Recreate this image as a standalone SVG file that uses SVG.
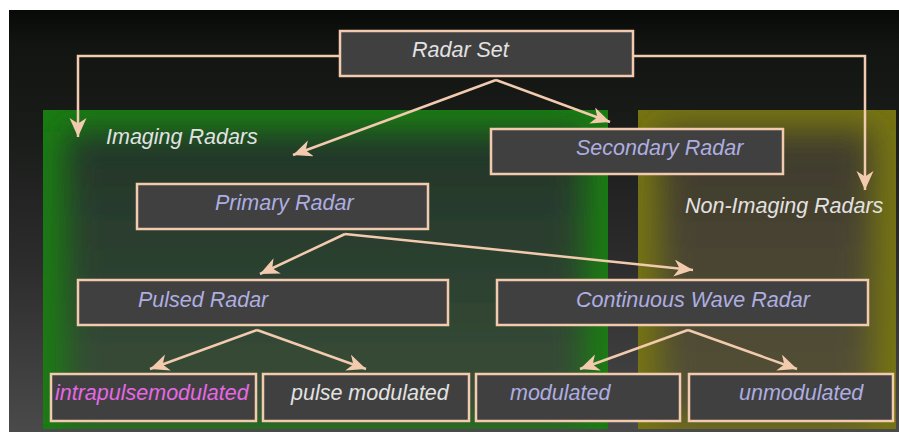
<svg xmlns="http://www.w3.org/2000/svg" width="899" height="432" viewBox="0 0 899 432">
  <defs>
    <linearGradient id="bg" x1="0" y1="0" x2="0" y2="1">
      <stop offset="0" stop-color="#080a08"/>
      <stop offset="0.08" stop-color="#121412"/>
      <stop offset="0.3" stop-color="#1a1c1a"/>
      <stop offset="0.6" stop-color="#2c2c2c"/>
      <stop offset="1" stop-color="#4a4a4a"/>
    </linearGradient>
    <linearGradient id="ginner" x1="0" y1="0" x2="0" y2="1">
      <stop offset="0" stop-color="#22352a"/>
      <stop offset="0.5" stop-color="#2d4130"/>
      <stop offset="1" stop-color="#3c503a"/>
    </linearGradient>
    <linearGradient id="yinner" x1="0" y1="0" x2="0" y2="1">
      <stop offset="0" stop-color="#3e3a2c"/>
      <stop offset="0.5" stop-color="#4a4632"/>
      <stop offset="1" stop-color="#565338"/>
    </linearGradient>
    <filter id="soft" x="-20%" y="-20%" width="140%" height="140%">
      <feGaussianBlur stdDeviation="16"/>
    </filter>
    <clipPath id="gclip"><rect x="43" y="110" width="565" height="319"/></clipPath>
    <clipPath id="yclip"><rect x="638" y="110" width="258" height="319"/></clipPath>
    <marker id="arr" markerUnits="userSpaceOnUse" markerWidth="22" markerHeight="18" refX="19" refY="8.5" orient="auto" viewBox="0 0 22 18">
      <path d="M0,0 L19,8.5 L0,17 L5.5,8.5 Z" fill="#f2cbae"/>
    </marker>
    <style>
      .node rect { fill: #404040; stroke: #f2cbae; stroke-width: 2.5; }
      .lbl { font-family: "Liberation Sans", Arial, sans-serif; font-style: italic; font-size: 21.5px; }
      .lav { fill: #aeaee0; }
      .wht { fill: #e2e2e2; }
      .mag { fill: #e668e6; }
      .conn path { fill: none; stroke: #f2cbae; stroke-width: 2.5; marker-end: url(#arr); }
    </style>
  </defs>

  <rect x="9" y="10" width="890" height="422" fill="url(#bg)"/>

  <g id="imaging-region">
    <rect x="43" y="110" width="565" height="319" fill="#1a7c12"/>
    <g clip-path="url(#gclip)">
      <rect x="66" y="132" width="518" height="292" fill="url(#ginner)" filter="url(#soft)"/>
    </g>
    <text class="lbl wht" x="106" y="144">Imaging Radars</text>
  </g>

  <g id="nonimaging-region">
    <rect x="638" y="110" width="258" height="319" fill="#767412"/>
    <g clip-path="url(#yclip)">
      <rect x="660" y="130" width="212" height="292" fill="url(#yinner)" filter="url(#soft)"/>
    </g>
    <text class="lbl wht" x="685" y="213">Non-Imaging Radars</text>
  </g>

  <g id="connectors" class="conn">
    <path d="M340,56 H78 V137"/>
    <path d="M633,56 H865 V190"/>
    <path d="M496,80 L293,155"/>
    <path d="M496,80 L610,122"/>
    <path d="M345,234 L260,274"/>
    <path d="M345,234 L693,270"/>
    <path d="M257,330 L150,369"/>
    <path d="M257,330 L366,369"/>
    <path d="M688,330 L580,369"/>
    <path d="M688,330 L797,369"/>
  </g>

  <g id="radar-set" class="node">
    <rect x="340" y="31" width="293" height="45"/>
    <text class="lbl wht" x="412" y="57">Radar Set</text>
  </g>
  <g id="secondary-radar" class="node">
    <rect x="491" y="129" width="292" height="45"/>
    <text class="lbl lav" x="576" y="155">Secondary Radar</text>
  </g>
  <g id="primary-radar" class="node">
    <rect x="137" y="184" width="291" height="45"/>
    <text class="lbl lav" x="215" y="210">Primary Radar</text>
  </g>
  <g id="pulsed-radar" class="node">
    <rect x="78" y="280" width="370" height="45"/>
    <text class="lbl lav" x="138" y="307">Pulsed Radar</text>
  </g>
  <g id="cw-radar" class="node">
    <rect x="497" y="280" width="371" height="45"/>
    <text class="lbl lav" x="576" y="307">Continuous Wave Radar</text>
  </g>
  <g id="intrapulse" class="node">
    <rect x="51" y="374" width="205" height="47"/>
    <text class="lbl mag" x="55" y="400">intrapulsemodulated</text>
  </g>
  <g id="pulse-modulated" class="node">
    <rect x="263" y="374" width="206" height="47"/>
    <text class="lbl wht" x="291" y="400">pulse modulated</text>
  </g>
  <g id="modulated" class="node">
    <rect x="476" y="374" width="204" height="47"/>
    <text class="lbl lav" x="510" y="400">modulated</text>
  </g>
  <g id="unmodulated" class="node">
    <rect x="689" y="374" width="204" height="47"/>
    <text class="lbl lav" x="739" y="400">unmodulated</text>
  </g>
</svg>
